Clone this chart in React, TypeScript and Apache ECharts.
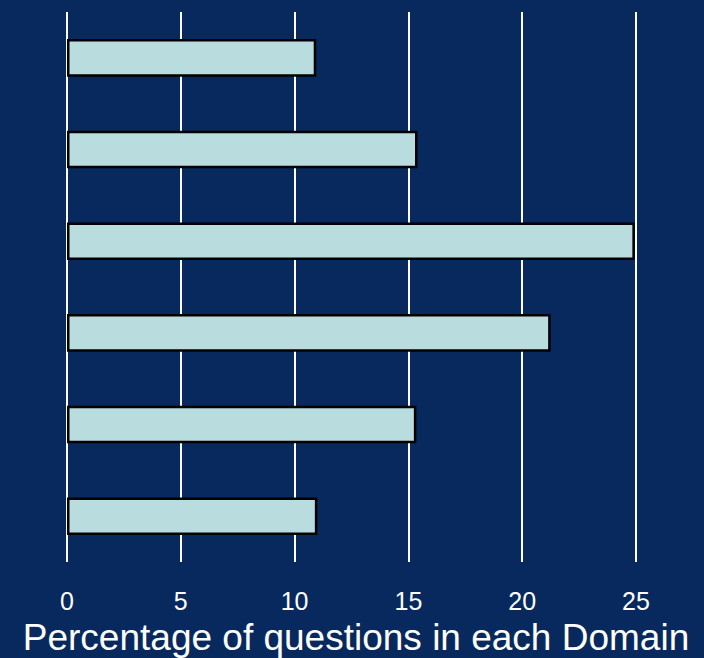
import React, { useEffect, useRef } from "react";
import * as echarts from "echarts";

const categories = ["Domain 1", "Domain 2", "Domain 3", "Domain 4", "Domain 5", "Domain 6"];
const values = [10.95, 15.4, 24.95, 21.25, 15.35, 11.0];
const xTicks = [0, 5, 10, 15, 20, 25];
const axisTitle = "Percentage of questions in each Domain";

export default function App() {
  const ref = useRef<HTMLDivElement>(null);
  useEffect(() => {
    if (!ref.current) return;
    const chart = echarts.init(ref.current, null, { renderer: "svg" });
    chart.setOption({
      animation: false,
      backgroundColor: "#08295e",
      grid: { left: 67, right: 68, top: 12, bottom: 96, containLabel: false },
      xAxis: {
        type: "value",
        min: xTicks[0],
        max: xTicks[xTicks.length - 1],
        interval: 5,
        axisLine: { show: false },
        axisTick: { show: false },
        axisLabel: {
          color: "#ffffff",
          fontSize: 25,
          fontFamily: "'Liberation Sans', Arial, sans-serif",
          margin: 26,
        },
        splitLine: { show: true, lineStyle: { color: "#ffffff", width: 2 } },
      },
      yAxis: {
        type: "category",
        data: categories,
        inverse: true,
        axisLine: { show: false },
        axisTick: { show: false },
        axisLabel: { show: false },
        splitLine: { show: false },
      },
      series: [
        {
          type: "bar",
          data: values,
          barWidth: "41%",
          itemStyle: { color: "#b9dcdf", borderColor: "#000000", borderWidth: 2.5 },
          z: 3,
        },
      ],
      graphic: [
        {
          type: "text",
          x: 356,
          y: 637,
          style: {
            text: axisTitle,
            fill: "#ffffff",
            fontSize: 37,
            fontFamily: "'Liberation Sans', Arial, sans-serif",
            align: "center",
            verticalAlign: "middle",
          },
        },
      ],
    });
    return () => chart.dispose();
  }, []);
  return (
    <div
      ref={ref}
      style={{ position: "fixed", left: 0, top: 0, width: 704, height: 658 }}
    />
  );
}
